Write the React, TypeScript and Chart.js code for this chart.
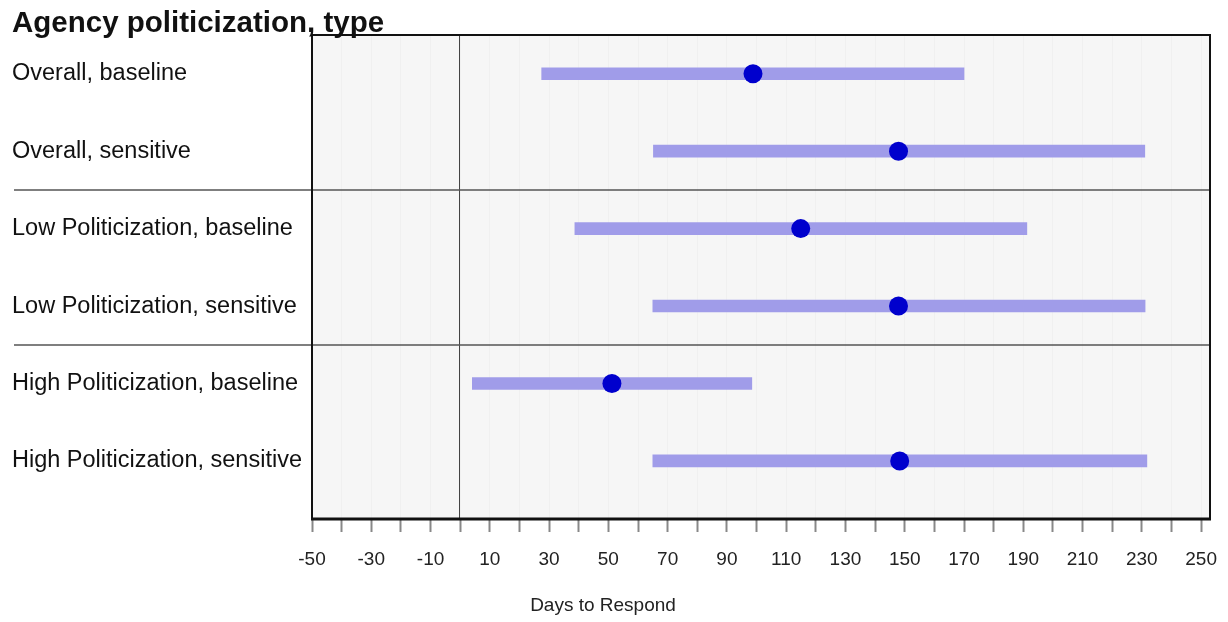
import React, { useEffect, useRef } from 'react';
import { Chart, registerables } from 'chart.js';

Chart.register(...registerables);

const categories = [
  'Overall, baseline',
  'Overall, sensitive',
  'Low Politicization, baseline',
  'Low Politicization, sensitive',
  'High Politicization, baseline',
  'High Politicization, sensitive',
];
const estimates = [98.8, 147.9, 114.9, 147.9, 51.2, 148.3];
const lowerBounds = [27.5, 65.2, 38.7, 65.0, 4.1, 65.0];
const upperBounds = [170.0, 231.0, 191.2, 231.1, 98.4, 231.7];
const groupBreaks = [1.5, 3.5];
const referenceValue = 0;
const xTickValues = [-50, -40, -30, -20, -10, 0, 10, 20, 30, 40, 50, 60, 70, 80, 90, 100, 110, 120, 130, 140, 150, 160, 170, 180, 190, 200, 210, 220, 230, 240, 250];
const xTickLabels = [-50, -30, -10, 10, 30, 50, 70, 90, 110, 130, 150, 170, 190, 210, 230, 250];
const titleText = 'Agency politicization, type';
const xAxisTitle = 'Days to Respond';

const FONT = "'Liberation Sans', Arial, Helvetica, sans-serif";

const decorPlugin = {
  id: 'decor',
  beforeDraw(chart: any) {
    const { ctx, chartArea: a } = chart;
    ctx.save();
    ctx.fillStyle = '#f6f6f6';
    ctx.fillRect(a.left, a.top, a.right - a.left, a.bottom - a.top);
    ctx.restore();
  },
  beforeDatasetsDraw(chart: any) {
    const { ctx, chartArea: a, scales } = chart;
    const x = scales.x;
    const y = scales.y;
    ctx.save();
    const zx = Math.round(x.getPixelForValue(referenceValue)) - 0.5;
    ctx.strokeStyle = '#444';
    ctx.lineWidth = 1;
    ctx.beginPath();
    ctx.moveTo(zx, a.top);
    ctx.lineTo(zx, a.bottom);
    ctx.stroke();
    ctx.strokeStyle = '#555';
    ctx.lineWidth = 1.5;
    groupBreaks.forEach((b) => {
      const py = Math.round(y.getPixelForValue(b));
      ctx.beginPath();
      ctx.moveTo(14, py);
      ctx.lineTo(a.right, py);
      ctx.stroke();
    });
    ctx.restore();
  },
  afterDraw(chart: any) {
    const { ctx, chartArea: a } = chart;
    ctx.save();
    ctx.strokeStyle = '#111';
    ctx.lineWidth = 2;
    ctx.strokeRect(a.left, a.top, a.right - a.left, a.bottom - a.top);
    ctx.lineWidth = 3;
    ctx.beginPath();
    ctx.moveTo(a.left - 1, a.bottom);
    ctx.lineTo(a.right + 1, a.bottom);
    ctx.stroke();
    ctx.fillStyle = '#111';
    ctx.font = `bold 29.5px ${FONT}`;
    ctx.textAlign = 'left';
    ctx.textBaseline = 'alphabetic';
    ctx.fillText(titleText, 12, 32);
    ctx.font = `19px ${FONT}`;
    ctx.fillStyle = '#222';
    ctx.textAlign = 'center';
    ctx.textBaseline = 'middle';
    ctx.fillText(xAxisTitle, 603, 606);
    ctx.restore();
  },
};

export default function App() {
  const ref = useRef<HTMLCanvasElement | null>(null);
  useEffect(() => {
    if (!ref.current) return;
    const chart = new Chart(ref.current, {
      type: 'bar',
      data: {
        datasets: [
          {
            type: 'scatter',
            data: estimates.map((e, i) => ({ x: e, y: i })),
            pointRadius: 9.5,
            pointHoverRadius: 9.5,
            backgroundColor: '#0000cd',
            borderWidth: 0,
            order: 0,
          } as any,
          {
            type: 'bar',
            indexAxis: 'y',
            data: categories.map((_, i) => ({ x: [lowerBounds[i], upperBounds[i]], y: i })),
            backgroundColor: '#a09ce9',
            borderWidth: 0,
            barThickness: 12,
            order: 1,
          } as any,
        ],
      },
      options: {
        animation: false,
        responsive: false,
        indexAxis: 'y',
        layout: { padding: { top: 35, right: 18, left: 12, bottom: 0 } },
        plugins: { legend: { display: false }, tooltip: { enabled: false }, title: { display: false } },
        scales: {
          x: {
            type: 'linear',
            min: -50,
            max: 253,
            offset: false,
            afterBuildTicks: (s: any) => {
              s.ticks = xTickValues.map((v) => ({ value: v }));
            },
            afterFit: (s: any) => {
              s.height = 103;
              s.paddingLeft = 0;
              s.paddingRight = 0;
            },
            ticks: {
              autoSkip: false,
              maxRotation: 0,
              padding: 16,
              color: '#222',
              font: { size: 19, family: FONT },
              callback: (v: any) => (xTickLabels.includes(v) ? String(v) : ''),
            },
            grid: { color: '#f0f0f0', tickColor: '#888', tickLength: 13, lineWidth: 1, tickWidth: 2, offset: false },
            border: { display: false },
          },
          y: {
            type: 'linear',
            reverse: true,
            min: -0.5,
            max: 5.75,
            offset: false,
            afterBuildTicks: (s: any) => {
              s.ticks = categories.map((_, i) => ({ value: i }));
            },
            afterFit: (s: any) => {
              s.width = 300;
              s.paddingTop = 0;
              s.paddingBottom = 0;
            },
            ticks: {
              autoSkip: false,
              crossAlign: 'far',
              color: '#111',
              font: { size: 23.5, family: FONT },
              callback: (v: any) => categories[v] ?? '',
            },
            grid: { display: false, offset: false },
            border: { display: false },
          },
        },
      } as any,
      plugins: [decorPlugin],
    });
    return () => chart.destroy();
  }, []);
  return (
    <div style={{ position: 'fixed', left: 0, top: 0, width: 1228, height: 622, background: '#fff' }}>
      <canvas ref={ref} width={1228} height={622} style={{ width: 1228, height: 622 }} />
    </div>
  );
}
